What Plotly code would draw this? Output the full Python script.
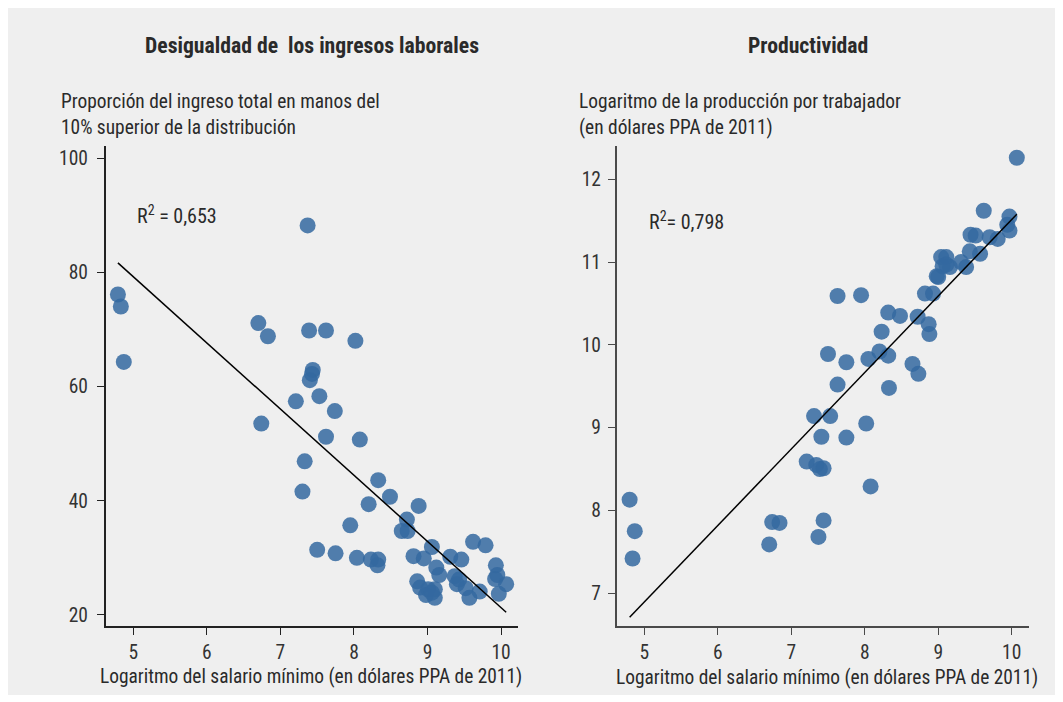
import plotly.graph_objects as go

# ---------------- data ----------------
x_ticks = [5, 6, 7, 8, 9, 10]
left_y_ticks = [20, 40, 60, 80, 100]
right_y_ticks = [7, 8, 9, 10, 11, 12]

# Panel 1: log minimum wage vs top-10% share
left_x = [4.79, 4.83, 4.87, 7.37, 6.70, 6.83, 7.39, 7.62, 8.02, 7.44,
          7.43, 7.40, 7.21, 7.53, 7.74, 6.74, 7.62, 8.08, 7.33, 7.30,
          8.33, 8.49, 8.20, 8.88, 7.95, 8.72, 8.65, 8.73, 9.62, 9.79,
          9.06, 7.50, 7.75, 8.04, 8.23, 8.33, 8.32, 8.81, 8.95, 9.31,
          9.46, 9.12, 9.16, 9.93, 9.95, 9.92, 10.07, 9.37, 9.43, 9.40,
          9.52, 8.86, 8.90, 8.98, 9.01, 9.10, 9.10, 9.06, 9.57, 9.71,
          9.97]
left_y = [76.1, 74.0, 64.3, 88.2, 71.1, 68.8, 69.8, 69.8, 68.0, 62.9,
          62.2, 61.1, 57.4, 58.3, 55.7, 53.5, 51.2, 50.7, 46.9, 41.6,
          43.6, 40.7, 39.4, 39.1, 35.7, 36.7, 34.7, 34.7, 32.8, 32.2,
          31.9, 31.4, 30.8, 30.0, 29.7, 29.7, 28.7, 30.3, 29.9, 30.2,
          29.7, 28.3, 27.0, 28.7, 27.0, 26.3, 25.4, 26.8, 26.2, 25.4,
          24.7, 25.9, 24.8, 23.5, 24.5, 24.5, 23.0, 23.9, 23.0, 24.1,
          23.7]
left_fit = {"intercept": 137.1, "slope": -11.58}
left_r2 = "R<sup>2</sup> = 0,653"

# Panel 2: log minimum wage vs log output per worker
right_x = [4.80, 4.87, 4.84, 6.70, 6.74, 6.84, 7.21, 7.34, 7.39, 7.44,
           7.44, 7.37, 8.08, 7.31, 7.53, 7.41, 7.75, 8.02, 7.63, 7.50,
           7.75, 8.05, 8.20, 8.32, 8.33, 8.23, 8.32, 8.48, 7.63, 7.95,
           8.65, 8.73, 8.72, 8.87, 8.88, 8.82, 8.93, 10.07, 9.62, 9.97,
           9.94, 9.97, 9.44, 9.51, 9.70, 9.81, 9.43, 9.57, 9.38, 9.31,
           9.04, 9.11, 9.06, 9.16, 8.98, 9.00, 9.11]
right_y = [8.13, 7.75, 7.42, 7.59, 7.86, 7.85, 8.59, 8.55, 8.50, 8.51,
           7.88, 7.68, 8.29, 9.14, 9.14, 8.89, 8.88, 9.05, 9.52, 9.89,
           9.79, 9.83, 9.92, 9.87, 9.48, 10.16, 10.39, 10.35, 10.59, 10.60,
           9.77, 9.65, 10.34, 10.25, 10.13, 10.62, 10.62, 12.26, 11.62, 11.55,
           11.45, 11.38, 11.33, 11.32, 11.30, 11.28, 11.13, 11.10, 10.94, 11.00,
           11.06, 11.06, 10.95, 10.94, 10.83, 10.82, 10.97]
right_fit = {"intercept": 2.274, "slope": 0.924}
right_r2 = "R<sup>2</sup>= 0,798"

titles = ["Desigualdad de  los ingresos laborales", "Productividad"]
left_ytitle = ["Proporción del ingreso total en manos del",
               "10% superior de la distribución"]
right_ytitle = ["Logaritmo de la producción por trabajador",
                "(en dólares PPA de 2011)"]
x_title = "Logaritmo del salario mínimo (en dólares PPA de 2011)"

# ---------------- style ----------------
# The page body has an 8px margin, so the figure is drawn 8px in from the
# window's top-left corner; reference pixel positions are mapped accordingly.
OFF = 8
W, H = 1063 - OFF, 702 - OFF
FONT = "Liberation Sans Narrow, Roboto Condensed, DejaVu Sans Condensed, Arial Narrow, Roboto, sans-serif"
BG = "#efefef"
DOT = "rgb(52,105,160)"
TXT = "#2a2a2a"


def px(x):
    return (x - OFF) / W


def py(y):
    return 1 - (y - OFF) / H


fig = go.Figure()

for xs, ys, fit, xa, ya in [(left_x, left_y, left_fit, "x", "y"),
                            (right_x, right_y, right_fit, "x2", "y2")]:
    fig.add_trace(go.Scatter(
        x=xs, y=ys, mode="markers", xaxis=xa, yaxis=ya,
        marker=dict(size=16, color=DOT, opacity=0.85, line=dict(width=0)),
        showlegend=False, hoverinfo="x+y"))
    x0, x1 = min(xs), max(xs)
    fig.add_trace(go.Scatter(
        x=[x0, x1],
        y=[fit["intercept"] + fit["slope"] * x0, fit["intercept"] + fit["slope"] * x1],
        mode="lines", xaxis=xa, yaxis=ya,
        line=dict(color="black", width=1.5), showlegend=False, hoverinfo="skip"))

ydom = [py(626.3), py(146)]
axis_base = dict(showgrid=False, zeroline=False, showline=True, linewidth=1.6,
                 ticks="outside", ticklen=7, tickwidth=1.3,
                 tickfont=dict(family=FONT, size=19.5, color="#333"))

fig.update_layout(
    width=W, height=H,
    margin=dict(l=0, r=0, t=0, b=0),
    paper_bgcolor="white",
    plot_bgcolor="rgba(0,0,0,0)",
    font=dict(family=FONT, color=TXT),
    xaxis=dict(domain=[px(105.7), px(517.7)], range=[4.624, 10.227],
               tickvals=x_ticks, anchor="y", linecolor="#222", tickcolor="#222",
               ticklabelstandoff=0, **axis_base),
    yaxis=dict(domain=ydom, range=[18.02, 102.1], tickvals=left_y_ticks,
               anchor="x", linecolor="#222", tickcolor="#222",
               ticklabelstandoff=5, **axis_base),
    xaxis2=dict(domain=[px(616.7), px(1029.3)], range=[4.624, 10.24],
                tickvals=x_ticks, anchor="y2", linecolor="#4a4a4a", tickcolor="#4a4a4a",
                ticklabelstandoff=0, **axis_base),
    yaxis2=dict(domain=ydom, range=[6.601, 12.402], tickvals=right_y_ticks,
                anchor="x2", linecolor="#4a4a4a", tickcolor="#4a4a4a",
                ticklabelstandoff=3, **axis_base),
    shapes=[dict(type="rect", xref="paper", yref="paper",
                 x0=px(7), x1=px(1056), y0=py(695), y1=py(7),
                 fillcolor=BG, line=dict(width=0), layer="below")],
)

ann = []


def add(text, x, y, xanchor="left", size=19.4, bold=False):
    ann.append(dict(text=f"<b>{text}</b>" if bold else text,
                    x=px(x), y=py(y), xref="paper", yref="paper",
                    xanchor=xanchor, yanchor="middle", showarrow=False,
                    font=dict(family=FONT, size=size, color=TXT)))


add(titles[0], 311.6, 45, "center", 21.7, True)
add(titles[1], 808.4, 45, "center", 21.7, True)
add(left_ytitle[0], 59, 101)
add(left_ytitle[1], 59, 127)
add(right_ytitle[0], 576.5, 101)
add(right_ytitle[1], 576.5, 127)
add(left_r2, 135, 215, size=20)
add(right_r2, 647, 221, size=20)
add(x_title, 311, 676, "center")
add(x_title, 826.5, 677, "center")

fig.update_layout(annotations=ann)

fig.write_html("out.html")
